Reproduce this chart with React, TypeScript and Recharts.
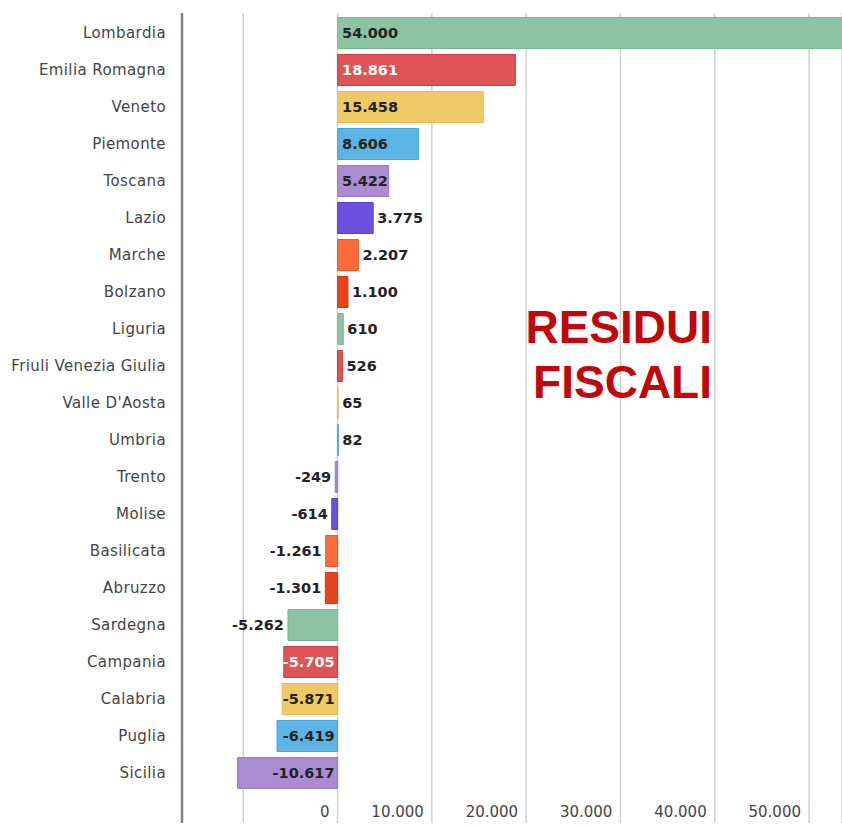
import React from 'react';
import { BarChart, Bar, XAxis, YAxis, CartesianGrid, Cell, LabelList } from 'recharts';

// ---- data ----
const REGIONS: string[] = [
  'Lombardia', 'Emilia Romagna', 'Veneto', 'Piemonte', 'Toscana', 'Lazio', 'Marche',
  'Bolzano', 'Liguria', 'Friuli Venezia Giulia', "Valle D'Aosta", 'Umbria', 'Trento',
  'Molise', 'Basilicata', 'Abruzzo', 'Sardegna', 'Campania', 'Calabria', 'Puglia', 'Sicilia',
];
const VALUES: number[] = [
  54000, 18861, 15458, 8606, 5422, 3775, 2207,
  1100, 610, 526, 65, 82, -249,
  -614, -1261, -1301, -5262, -5705, -5871, -6419, -10617,
];
const X_TICKS: number[] = [-10000, 0, 10000, 20000, 30000, 40000, 50000];
const X_TICK_LABELS: string[] = ['', '0', '10.000', '20.000', '30.000', '40.000', '50.000'];
const TITLE_LINES: string[] = ['RESIDUI', 'FISCALI'];

// ---- styles ----
const PALETTE = [
  { fill: '#8cc3a3', stroke: '#7ab893', text: '#222' },
  { fill: '#de5457', stroke: '#d33c40', text: '#fff' },
  { fill: '#f0c866', stroke: '#e6bb50', text: '#222' },
  { fill: '#5cb4e5', stroke: '#46a7dc', text: '#222' },
  { fill: '#aa8cd2', stroke: '#9a79c8', text: '#222' },
  { fill: '#6b50e0', stroke: '#5a3dd6', text: '#222' },
  { fill: '#fb6b38', stroke: '#f25a25', text: '#222' },
  { fill: '#e6441d', stroke: '#d8380f', text: '#222' },
];

const data = REGIONS.map((region, i) => ({ region, value: VALUES[i] }));

const fmt = (v: number) => {
  const s = Math.abs(v).toString().replace(/\B(?=(\d{3})+(?!\d))/g, '.');
  return v < 0 ? '-' + s : s;
};

const LABEL_FONT = 'bold 14.5px "DejaVu Sans"';
let ctx: CanvasRenderingContext2D | null = null;
const measure = (s: string) => {
  if (!ctx) {
    const c = document.createElement('canvas');
    ctx = c.getContext('2d');
  }
  if (!ctx) return s.length * 9;
  ctx.font = LABEL_FONT;
  return ctx.measureText(s).width;
};

const ValueLabel = (props: any) => {
  const vb = props.viewBox || {};
  const x = Number(props.x ?? vb.x);
  const y = Number(props.y ?? vb.y);
  const width = Number(props.width ?? vb.width);
  const height = Number(props.height ?? vb.height);
  const value = Number(props.value);
  const index = Number(props.index);
  const left = Math.min(x, x + width);
  const right = Math.max(x, x + width);
  const absW = right - left;
  const text = fmt(value);
  const tw = measure(text);
  const inside = absW >= tw;
  const cy = y + height / 2;
  const pal = PALETTE[index % PALETTE.length];
  let tx: number;
  let anchor: 'start' | 'end';
  if (value >= 0) {
    anchor = 'start';
    tx = inside ? left + 4.5 : right + 4;
  } else {
    anchor = 'end';
    tx = inside ? right - 3 : left - 4;
  }
  return (
    <text
      x={tx}
      y={cy}
      textAnchor={anchor}
      dominantBaseline="central"
      fill={inside ? pal.text : '#222'}
      style={{ font: LABEL_FONT }}
    >
      {text}
    </text>
  );
};

const XTick = (props: any) => {
  const { x, y, index } = props;
  const label = X_TICK_LABELS[index] ?? '';
  if (!label) return null;
  return (
    <text
      x={x - 8}
      y={y - 6}
      textAnchor="end"
      fill="#444"
      style={{ fontFamily: '"DejaVu Sans"', fontSize: 15 }}
    >
      {label}
    </text>
  );
};

export default function App() {
  return (
    <div style={{ position: 'absolute', left: 0, top: 0, width: 842, height: 829, background: '#fff' }}>
      <BarChart
        width={842}
        height={829}
        data={data}
        layout="vertical"
        margin={{ top: 13, right: 0, bottom: 0, left: 0 }}
      >
        <CartesianGrid horizontal={false} vertical stroke="#cfcfcf" strokeWidth={1.5} />
        <XAxis
          type="number"
          domain={[-16500, 53500]}
          allowDataOverflow
          ticks={X_TICKS}
          interval={0}
          height={6}
          axisLine={false}
          tickLine={false}
          tickSize={0}
          tickMargin={0}
          tick={<XTick />}
        />
        <YAxis
          type="category"
          dataKey="region"
          width={182}
          interval={0}
          padding={{ top: 1.5, bottom: 31.5 }}
          axisLine={{ stroke: '#808080', strokeWidth: 2.5 }}
          tickLine={false}
          tickSize={0}
          tickMargin={16}
          tick={{ fill: '#444', fontSize: 15, fontFamily: '"DejaVu Sans"', letterSpacing: 0.4 }}
        />
        <Bar dataKey="value" barSize={31} isAnimationActive={false}>
          {data.map((d, i) => (
            <Cell
              key={d.region}
              fill={PALETTE[i % PALETTE.length].fill}
              stroke={PALETTE[i % PALETTE.length].stroke}
              strokeWidth={1}
            />
          ))}
          <LabelList dataKey="value" content={<ValueLabel />} />
        </Bar>
      </BarChart>
      <svg
        width={842}
        height={829}
        style={{ position: 'absolute', left: 0, top: 0, pointerEvents: 'none' }}
      >
        {TITLE_LINES.map((t, i) => (
          <text
            key={t}
            x={712}
            y={343 + i * 55}
            textAnchor="end"
            fill="#c0080c"
            style={{ fontFamily: '"Liberation Sans", Arial, sans-serif', fontWeight: 'bold', fontSize: 46 }}
          >
            {t}
          </text>
        ))}
      </svg>
    </div>
  );
}
